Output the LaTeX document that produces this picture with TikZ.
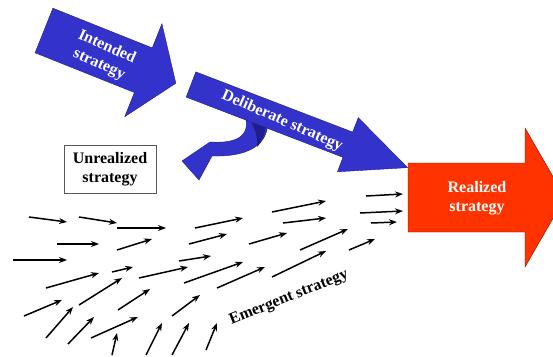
\documentclass[tikz,border=0pt]{standalone}
\usepackage{fontspec}
\setmainfont{Liberation Serif}
\usetikzlibrary{arrows.meta}

\definecolor{stratblue}{RGB}{51,51,204}
\definecolor{stratdark}{RGB}{30,30,140}
\definecolor{stratred}{RGB}{255,51,0}

\begin{document}
\begin{tikzpicture}[x=1pt, y=-1pt]
    % Styles
    \tikzstyle{blockblue} = [fill=stratblue, draw=stratdark, line width=0.4pt]
    \tikzstyle{blockred} = [fill=stratred, draw=red!55!black, line width=0.4pt]
    \tikzstyle{caption} = [text=white, font=\bfseries\fontsize{16}{19}\selectfont, align=center]
    \tikzstyle{plain} = [text=black, font=\bfseries\fontsize{16}{19}\selectfont, align=center]
    \tikzstyle{small} = [-{Stealth[length=8pt, width=6pt]}, line width=1.5pt]
    \useasboundingbox (0,0) rectangle (553,356);

    % Intended strategy
    \begin{scope}[shift={(44,30.5)}, rotate=-21.8]
        \path[blockblue] (0,-24) -- (107,-24) -- (107,-50) -- (142,0) -- (107,50) -- (107,24) -- (0,24) -- cycle;
    \end{scope}
    \node[caption, rotate=-24] (intended) at (103,56) {Intended\\strategy};

    % Turning away (unrealized)
    \path[blockblue] (267,112) .. controls (272,140) and (256,157) .. (212,156)
        -- (199,180) -- (182,161) -- (210,142)
        .. controls (240,144) and (252,134) .. (244,112) -- cycle;
    \fill[stratdark] (246,114) .. controls (255,126) and (258,137) .. (257,147)
        .. controls (264,140) and (267,128) .. (265,114) -- cycle;

    % Deliberate strategy
    \begin{scope}[shift={(191,84.5)}, rotate=-21]
        \path[blockblue] (0,-13.5) -- (168,-13.5) -- (168,-29) -- (232,0) -- (168,29) -- (168,13.5) -- (0,13.5) -- cycle;
    \end{scope}
    \node[caption, rotate=-23.5] (deliberate) at (282,121) {Deliberate strategy};

    % Realized strategy
    \path[blockred] (408,163) -- (525,163) -- (525,128) -- (565,197.5) -- (525,267) -- (525,232) -- (408,232) -- cycle;
    \node[caption] (realized) at (477,198) {Realized\\strategy};

    % Unrealized strategy
    \node[plain, draw=gray!70!black, line width=0.6pt, minimum width=92, minimum height=48, inner sep=2pt] (unrealized) at (110,169) {Unrealized\\strategy};

    % Emergent strategy
    \foreach \xa/\ya/\xb/\yb [count=\i] in {
        29/217/67/222, 79/217/117/223, 117/228/166/228, 195/228/243/218,
        57/244/99/244, 117/250/152/239, 189/244/227/234, 13/260/67/260,
        179/261/211/256, 46/288/99/273, 112/272/133/267, 139/278/188/267,
        184/283/243/262, 217/288/265/267, 24/316/62/300, 79/305/122/278,
        118/310/150/289, 172/316/200/295, 46/338/73/307, 68/344/94/317,
        91/338/138/317, 112/355/117/333, 146/355/162/323, 172/355/189/323,
        206/350/217/323, 272/212/326/201, 283/223/326/218, 366/196/403/194,
        360/213/403/211, 371/223/397/222, 249/244/287/233, 300/250/348/229,
        272/277/326/251, 349/250/375/239} {
        \coordinate (ea\i) at (\xa,\ya);
        \coordinate (eb\i) at (\xb,\yb);
        \draw[small] (ea\i) -- (eb\i);
    }
    \node[plain, rotate=22] (emergent) at (289,298) {Emergent strategy};
\end{tikzpicture}
\end{document}
